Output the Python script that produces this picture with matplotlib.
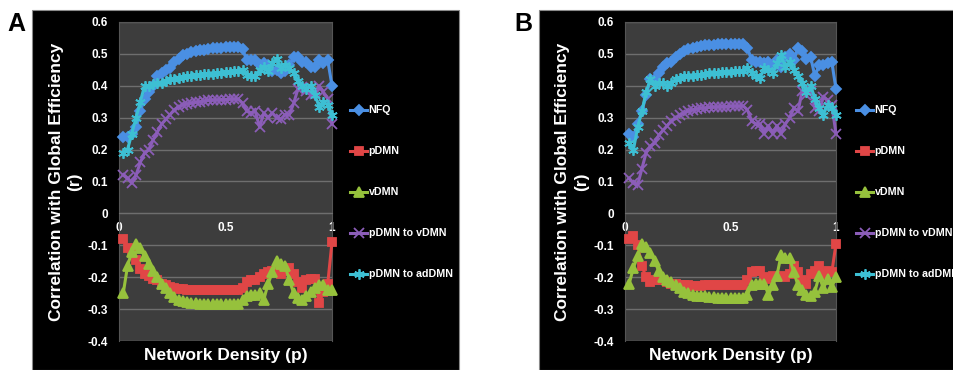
import matplotlib
matplotlib.use("Agg")
import matplotlib.pyplot as plt
from matplotlib.patches import Rectangle

plt.rcParams['font.family'] = ['Liberation Sans', 'DejaVu Sans']
plt.rcParams['font.weight'] = 'bold'

# network density (p) values on the x axis
density = [round(0.02 * k, 2) for k in range(1, 51)]

series_names = ["NFQ", "pDMN", "vDMN", "pDMN to vDMN", "pDMN to adDMN"]

y_ticks = [-0.4, -0.3, -0.2, -0.1, 0, 0.1, 0.2, 0.3, 0.4, 0.5, 0.6]
y_tick_labels = ["-0.4", "-0.3", "-0.2", "-0.1", "0", "0.1", "0.2", "0.3", "0.4", "0.5", "0.6"]
x_ticks = [0, 0.5, 1]
x_tick_labels = ["0", "0.5", "1"]

# ---- panel A ----
nfq_a = [0.24, 0.24, 0.25, 0.27, 0.32, 0.36, 0.38, 0.40, 0.43, 0.44,
         0.45, 0.455, 0.475, 0.485, 0.495, 0.50, 0.505, 0.51, 0.511, 0.513,
         0.515, 0.517, 0.518, 0.52, 0.521, 0.522, 0.523, 0.523, 0.515, 0.48,
         0.48, 0.48, 0.465, 0.47, 0.465, 0.445, 0.45, 0.44, 0.445, 0.465,
         0.49, 0.49, 0.475, 0.475, 0.46, 0.46, 0.48, 0.47, 0.48, 0.40]
pdmn_a = [-0.08, -0.11, -0.12, -0.145, -0.175, -0.19, -0.195, -0.205, -0.21, -0.22,
          -0.225, -0.23, -0.233, -0.236, -0.238, -0.24, -0.24, -0.24, -0.24, -0.24,
          -0.24, -0.24, -0.24, -0.24, -0.24, -0.24, -0.24, -0.24, -0.235, -0.215,
          -0.21, -0.21, -0.20, -0.19, -0.185, -0.18, -0.175, -0.19, -0.18, -0.17,
          -0.19, -0.215, -0.235, -0.21, -0.205, -0.205, -0.28, -0.245, -0.22, -0.09]
vdmn_a = [-0.25, -0.165, -0.12, -0.095, -0.11, -0.135, -0.16, -0.18, -0.20, -0.22,
          -0.235, -0.25, -0.262, -0.27, -0.275, -0.278, -0.28, -0.282, -0.283, -0.284,
          -0.285, -0.285, -0.285, -0.285, -0.285, -0.285, -0.285, -0.285, -0.27, -0.26,
          -0.255, -0.255, -0.25, -0.27, -0.22, -0.185, -0.15, -0.16, -0.165, -0.21,
          -0.25, -0.265, -0.27, -0.26, -0.245, -0.235, -0.225, -0.225, -0.24, -0.24]
p2v_a = [0.12, 0.11, 0.095, 0.12, 0.16, 0.19, 0.20, 0.23, 0.255, 0.28,
         0.295, 0.31, 0.325, 0.335, 0.34, 0.343, 0.346, 0.348, 0.35, 0.352,
         0.354, 0.355, 0.356, 0.357, 0.357, 0.358, 0.358, 0.358, 0.345, 0.32,
         0.315, 0.32, 0.27, 0.315, 0.30, 0.315, 0.30, 0.295, 0.31, 0.31,
         0.345, 0.39, 0.395, 0.385, 0.37, 0.375, 0.40, 0.38, 0.36, 0.28]
p2ad_a = [0.19, 0.20, 0.25, 0.30, 0.35, 0.40, 0.40, 0.405, 0.41, 0.41,
          0.415, 0.42, 0.42, 0.425, 0.427, 0.43, 0.432, 0.434, 0.435, 0.436,
          0.437, 0.438, 0.44, 0.44, 0.442, 0.443, 0.445, 0.447, 0.45, 0.435,
          0.43, 0.43, 0.45, 0.46, 0.445, 0.47, 0.485, 0.455, 0.465, 0.455,
          0.44, 0.415, 0.40, 0.39, 0.40, 0.37, 0.335, 0.35, 0.34, 0.31]

# ---- panel B ----
nfq_b = [0.25, 0.24, 0.28, 0.32, 0.37, 0.42, 0.42, 0.44, 0.46, 0.47,
         0.475, 0.49, 0.50, 0.51, 0.515, 0.52, 0.522, 0.525, 0.527, 0.528,
         0.529, 0.53, 0.53, 0.53, 0.531, 0.532, 0.532, 0.532, 0.52, 0.48,
         0.475, 0.475, 0.47, 0.475, 0.46, 0.48, 0.46, 0.49, 0.50, 0.48,
         0.52, 0.51, 0.485, 0.49, 0.43, 0.465, 0.465, 0.47, 0.475, 0.39]
pdmn_b = [-0.08, -0.07, -0.10, -0.165, -0.20, -0.215, -0.21, -0.21, -0.21, -0.215,
          -0.22, -0.22, -0.225, -0.225, -0.226, -0.227, -0.227, -0.227, -0.226, -0.226,
          -0.225, -0.225, -0.225, -0.224, -0.224, -0.224, -0.224, -0.224, -0.21, -0.185,
          -0.18, -0.18, -0.20, -0.205, -0.195, -0.20, -0.195, -0.20, -0.19, -0.165,
          -0.185, -0.21, -0.22, -0.19, -0.18, -0.165, -0.19, -0.18, -0.185, -0.095]
vdmn_b = [-0.22, -0.17, -0.135, -0.095, -0.105, -0.125, -0.15, -0.18, -0.20, -0.21,
          -0.215, -0.225, -0.235, -0.245, -0.25, -0.255, -0.258, -0.26, -0.26, -0.262,
          -0.263, -0.264, -0.265, -0.265, -0.265, -0.265, -0.265, -0.265, -0.255, -0.225,
          -0.22, -0.22, -0.22, -0.255, -0.225, -0.195, -0.13, -0.14, -0.14, -0.185,
          -0.225, -0.24, -0.255, -0.26, -0.245, -0.195, -0.235, -0.205, -0.23, -0.20]
p2v_b = [0.11, 0.095, 0.09, 0.14, 0.19, 0.21, 0.22, 0.245, 0.26, 0.275,
         0.29, 0.30, 0.31, 0.315, 0.32, 0.325, 0.327, 0.33, 0.33, 0.332,
         0.333, 0.334, 0.335, 0.335, 0.336, 0.336, 0.336, 0.337, 0.325, 0.29,
         0.28, 0.28, 0.25, 0.275, 0.25, 0.275, 0.25, 0.28, 0.30, 0.33,
         0.32, 0.385, 0.37, 0.385, 0.33, 0.32, 0.365, 0.355, 0.34, 0.25]
p2ad_b = [0.22, 0.20, 0.27, 0.32, 0.38, 0.42, 0.40, 0.41, 0.41, 0.40,
          0.41, 0.42, 0.425, 0.43, 0.43, 0.432, 0.435, 0.435, 0.437, 0.44,
          0.44, 0.44, 0.442, 0.442, 0.444, 0.445, 0.445, 0.447, 0.455, 0.44,
          0.43, 0.425, 0.455, 0.45, 0.44, 0.47, 0.495, 0.46, 0.475, 0.45,
          0.43, 0.41, 0.38, 0.40, 0.36, 0.33, 0.31, 0.34, 0.33, 0.31]

colors = ["#4a8fe3", "#e04646", "#96c13c", "#8b5db8", "#3dbfd3"]
markers = ["D", "s", "^", "x", (6, 2, 0)]
msizes = [4.8, 6, 6.5, 6.5, 7.5]

W, H = 954, 370
fig = plt.figure(figsize=(W / 100, H / 100), dpi=100)
fig.patch.set_facecolor("white")


def draw_panel(letter, rect_px, ax_px, leg_x, values):
    # black backdrop of the panel, kept below the axes
    x0, x1 = rect_px
    fig.patches.append(Rectangle((x0 / W, 0), (x1 - x0) / W, 360 / H,
                                 transform=fig.transFigure, facecolor="black",
                                 edgecolor="#8a8a8a", linewidth=0.8, zorder=-5))
    fig.text((x0 - 25) / W, 1 - 24 / H, letter, fontsize=18, fontweight="bold",
             color="black", ha="left", va="center")

    left, right = ax_px
    ax = fig.add_axes([left / W, (H - 341) / H, (right - left) / W, 319 / H])
    ax.set_zorder(2)
    ax.set_facecolor("#3d3d3d")
    for name, vals, c, m, ms in zip(series_names, values, colors, markers, msizes):
        ax.plot(density, vals, color=c, marker=m, markersize=ms, linewidth=2.2,
                markeredgewidth=1.3, label=name, clip_on=False, zorder=3)

    ax.set_xlim(0, 1)
    ax.set_ylim(-0.4, 0.6)
    ax.set_yticks(y_ticks)
    ax.set_yticklabels(y_tick_labels)
    ax.set_xticks(x_ticks)
    ax.set_xticklabels(x_tick_labels)
    ax.spines["bottom"].set_position(("data", 0))
    ax.spines["bottom"].set_color("#6e6e6e")
    for s in ["top", "left", "right"]:
        ax.spines[s].set_color("#555555")
    ax.tick_params(axis="both", length=0, colors="white", labelsize=8.5)
    ax.tick_params(axis="y", pad=8)
    ax.tick_params(axis="x", pad=6)
    ax.grid(axis="y", color="#6e6e6e", linewidth=1)
    ax.set_axisbelow(True)

    ax.text(-0.25, 0.5, "Correlation with Global Efficiency\n(r)", transform=ax.transAxes,
            rotation=90, ha="center", va="center", multialignment="center",
            color="white", fontsize=12.5, fontweight="bold", linespacing=1.3)
    ax.text(0.5, -0.045, "Network Density (p)", transform=ax.transAxes,
            ha="center", va="center", color="white", fontsize=12.5, fontweight="bold")

    ax.legend(loc="center left", bbox_to_anchor=((leg_x - left) / (right - left), 0.466),
              frameon=False, fontsize=7.7, labelcolor="white", handlelength=1.6,
              handletextpad=0.15, labelspacing=2.9, borderpad=0, borderaxespad=0)
    return ax


draw_panel("A", (32, 459), (119, 332), 350, [nfq_a, pdmn_a, vdmn_a, p2v_a, p2ad_a])
draw_panel("B", (539, 960), (625, 836), 856, [nfq_b, pdmn_b, vdmn_b, p2v_b, p2ad_b])

fig.savefig("out.png", dpi=100, facecolor="white")
